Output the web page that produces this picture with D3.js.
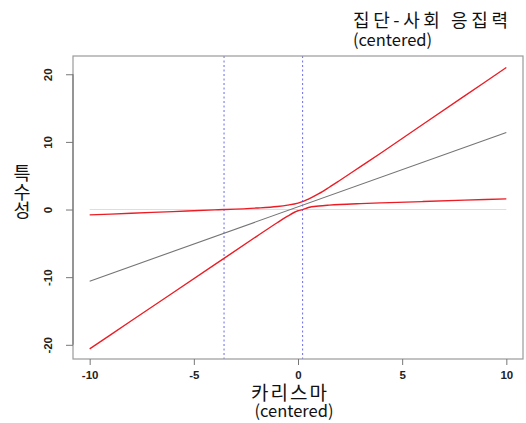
<!DOCTYPE html>
<html>
<head>
<meta charset="utf-8">
<script src="https://cdn.jsdelivr.net/npm/d3@7"></script>
<style>
  body { margin: 0; background: #fff; }
  svg { display: block; }
</style>
</head>
<body>
<svg id="chart" width="526" height="423"></svg>
<script>
// Data
const xTicks = [-10, -5, 0, 5, 10];
const yTicks = [-20, -10, 0, 10, 20];

const slopeX = [-10, 10];
const slopeY = [-10.6, 11.4];

const upperX = [-10, -8, -6, -4, -3.55, -2, -1, -0.5, 0, 0.25, 0.5, 1, 1.5, 2, 3, 4, 6, 8, 10];
const upperY = [-0.8, -0.55, -0.3, -0.05, 0, 0.22, 0.45, 0.65, 0.95, 1.2, 1.55, 2.35, 3.3, 4.3, 6.35, 8.4, 12.6, 16.8, 21.0];

const lowerX = [-10, -8, -6, -4, -2, -1, -0.5, 0, 0.22, 0.5, 1, 1.5, 2, 3, 4, 6, 8, 10];
const lowerY = [-20.6, -16.45, -12.3, -8.15, -4.0, -1.95, -0.98, -0.18, 0, 0.3, 0.52, 0.65, 0.75, 0.88, 0.98, 1.18, 1.38, 1.58];

const jnPoints = [-3.55, 0.22];
const zeroLine = [-10, 10];

const svg = d3.select('#chart');
const margin = { top: 56, right: 3, bottom: 64, left: 73 };
const width = 526, height = 423;
const innerWidth = width - margin.left - margin.right;
const innerHeight = height - margin.top - margin.bottom;

const x = d3.scaleLinear().domain([-10.8, 10.8]).range([0, innerWidth]);
const y = d3.scaleLinear().domain([-22.1, 22.7]).range([innerHeight, 0]);

const g = svg.append('g')
  .attr('transform', `translate(${margin.left},${margin.top})`);

// Zero reference line
g.append('line')
  .attr('x1', x(zeroLine[0])).attr('x2', x(zeroLine[1]))
  .attr('y1', y(0)).attr('y2', y(0))
  .attr('stroke', '#d4d4d4')
  .attr('stroke-width', 0.8);

// Johnson-Neyman boundaries
g.selectAll('.jn')
  .data(jnPoints)
  .enter().append('line')
  .attr('class', 'jn')
  .attr('x1', d => x(d)).attr('x2', d => x(d))
  .attr('y1', 0).attr('y2', innerHeight)
  .attr('stroke', '#7878ee')
  .attr('stroke-width', 1.1)
  .attr('stroke-dasharray', '2,2.5');

const line = d3.line()
  .x(d => x(d[0]))
  .y(d => y(d[1]))
  .curve(d3.curveMonotoneX);

// Simple slope
g.append('path')
  .datum(d3.zip(slopeX, slopeY))
  .attr('fill', 'none')
  .attr('stroke', '#747474')
  .attr('stroke-width', 1.1)
  .attr('d', line);

// Confidence bands
[d3.zip(upperX, upperY), d3.zip(lowerX, lowerY)].forEach(band => {
  g.append('path')
    .datum(band)
    .attr('fill', 'none')
    .attr('stroke', '#ec1c24')
    .attr('stroke-width', 1.35)
    .attr('d', line);
});

// Box
g.append('rect')
  .attr('width', innerWidth)
  .attr('height', innerHeight)
  .attr('fill', 'none')
  .attr('stroke', '#9a9a9a')
  .attr('stroke-width', 1.2);

const tickFont = 'Liberation Sans, Arial, sans-serif';

// X Axis
const xAxis = g.append('g')
  .attr('transform', `translate(0,${innerHeight})`)
  .call(d3.axisBottom(x).tickValues(xTicks).tickSize(6).tickPadding(6).tickFormat(d => String(d)));
xAxis.select('.domain').remove();
xAxis.selectAll('line').attr('stroke', '#777');
xAxis.selectAll('text')
  .attr('font-family', tickFont)
  .attr('font-size', 11.5)
  .attr('font-weight', 'bold')
  .attr('fill', '#222');

// Y Axis
const yAxis = g.append('g')
  .call(d3.axisLeft(y).tickValues(yTicks).tickSize(7).tickFormat(d => String(d)));
yAxis.select('.domain')
  .attr('d', `M0,${y(yTicks[0])}V${y(yTicks[yTicks.length - 1])}`)
  .attr('stroke', '#777')
  .attr('stroke-width', 1.2);
yAxis.selectAll('line').attr('stroke', '#777');
yAxis.selectAll('text')
  .attr('x', null).attr('dy', null)
  .attr('transform', 'translate(-25,0) rotate(-90)')
  .attr('text-anchor', 'middle')
  .attr('dominant-baseline', 'central')
  .attr('font-family', tickFont)
  .attr('font-size', 11.5)
  .attr('font-weight', 'bold')
  .attr('fill', '#222');

// Titles
const kfont = 'Noto Sans CJK KR, Noto Sans, sans-serif';

svg.append('text')
  .attr('x', 353).attr('y', 27)
  .attr('font-family', kfont)
  .attr('font-size', 18)
  .attr('letter-spacing', 3.6)
  .attr('fill', '#111')
  .text('집단-사회 응집력');
svg.append('text')
  .attr('x', 353).attr('y', 46)
  .attr('font-family', kfont)
  .attr('font-size', 16.5)
  .attr('fill', '#111')
  .text('(centered)');

svg.append('text')
  .attr('x', 290).attr('y', 400)
  .attr('text-anchor', 'middle')
  .attr('font-family', kfont)
  .attr('font-size', 19)
  .attr('letter-spacing', 2)
  .attr('fill', '#111')
  .text('카리스마');
svg.append('text')
  .attr('x', 294).attr('y', 417)
  .attr('text-anchor', 'middle')
  .attr('font-family', kfont)
  .attr('font-size', 16.5)
  .attr('fill', '#111')
  .text('(centered)');

// Stacked y label
svg.append('text')
  .attr('font-family', kfont)
  .attr('font-size', 18.5)
  .attr('text-anchor', 'middle')
  .attr('fill', '#111')
  .selectAll('tspan')
  .data(['특', '수', '성'])
  .enter().append('tspan')
  .attr('x', 22)
  .attr('y', (d, i) => 180 + i * 18.5)
  .text(d => d);
</script>
</body>
</html>
